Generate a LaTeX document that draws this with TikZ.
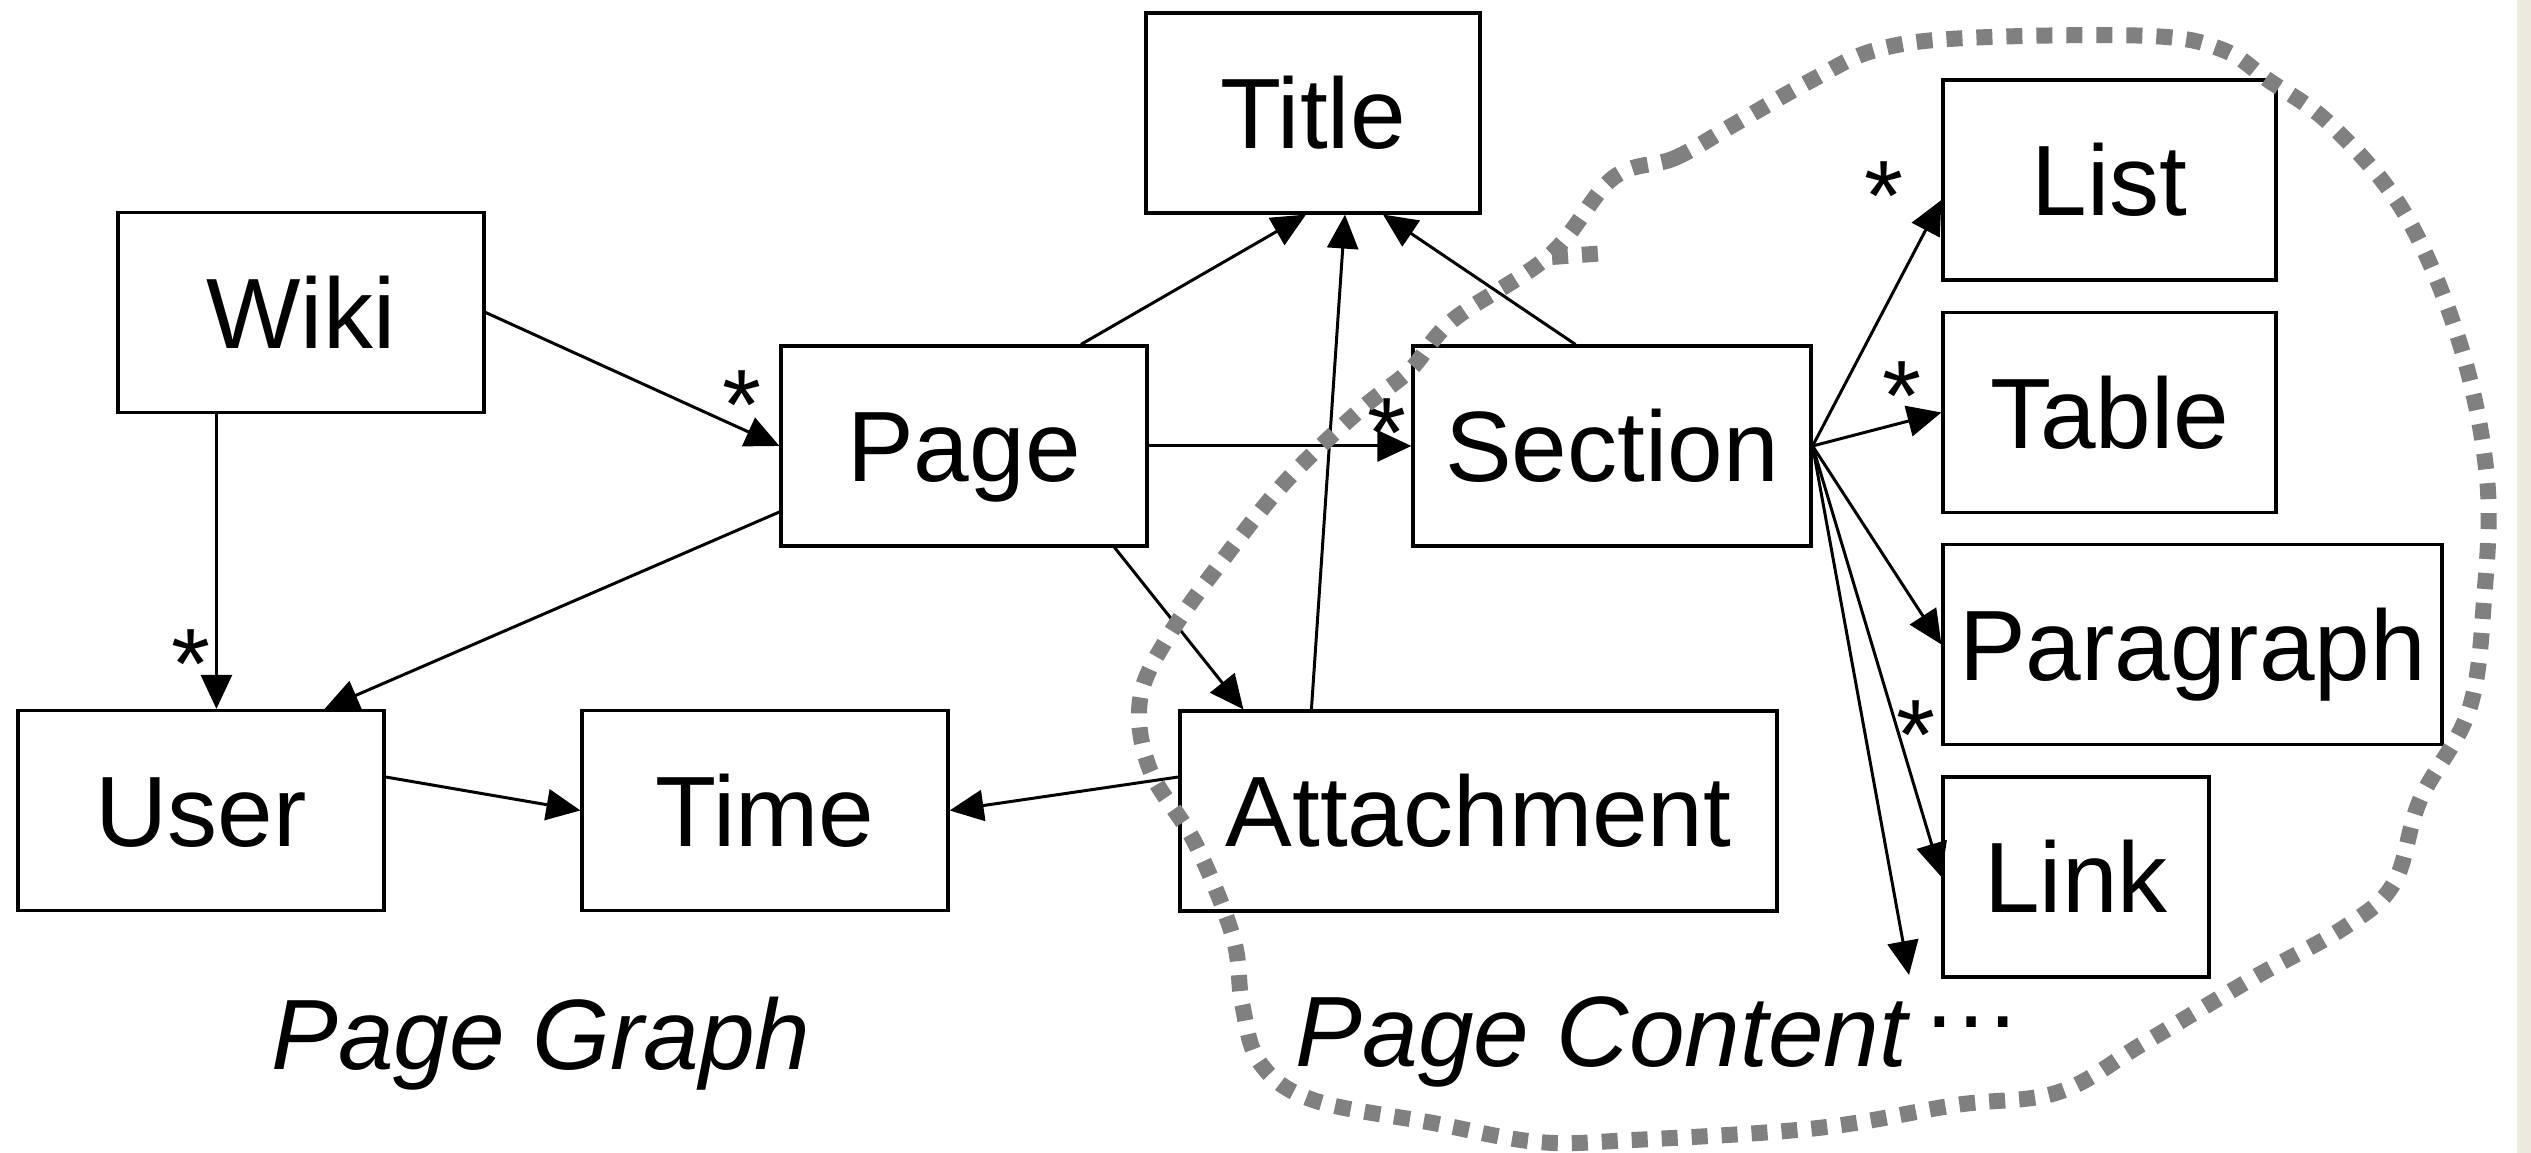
\documentclass[tikz,border=0pt]{standalone}
\usepackage{fontspec}
\setmainfont{Liberation Sans}
\usepackage{tikz}
\usetikzlibrary{arrows.meta}

\definecolor{loopgray}{RGB}{128,128,128}
\definecolor{edgebeige}{RGB}{236,233,221}

\begin{document}
\begin{tikzpicture}[
      box/.style={draw, line width=0.9pt, minimum height=2cm, inner sep=0pt, text height=0.72cm, text depth=0cm, font=\fontsize{28.45}{34}\selectfont},
      rel/.style={-{Triangle[length=3.4mm,width=3.1mm]}, line width=0.85pt},
      mult/.style={anchor=base, inner sep=0pt, font=\fontsize{28.45}{34}\selectfont},
      caption/.style={anchor=base, inner sep=0pt, font=\fontsize{28.45}{34}\selectfont\itshape},
      region/.style={draw=loopgray, line width=1.6mm, dash pattern=on 1.6mm off 1.4mm}
    ]
      \useasboundingbox (0,0) rectangle (25.31,11.53);
      \fill[white] (0,0) rectangle (25.31,11.53);
      \fill[edgebeige] (25.17,0) rectangle (25.31,11.53);

      \node[box, minimum width=3.34cm] (title) at (13.13,10.40) {Title};
      \node[box, minimum width=3.66cm] (wiki) at (3.01,8.405) {Wiki};
      \node[box, minimum width=3.66cm] (page) at (9.64,7.07) {Page};
      \node[box, minimum width=3.98cm] (section) at (16.12,7.07) {Section};
      \node[box, minimum width=3.33cm] (list) at (21.095,9.73) {List};
      \node[box, minimum width=3.33cm] (table) at (21.095,7.405) {Table};
      \node[box, minimum width=4.99cm] (paragraph) at (21.925,5.085) {Paragraph};
      \node[box, minimum width=2.66cm] (link) at (20.76,2.76) {Link};
      \node[box, minimum width=3.66cm] (user) at (2.01,3.425) {User};
      \node[box, minimum width=3.66cm] (time) at (7.65,3.425) {Time};
      \node[box, minimum width=5.97cm] (attachment) at (14.785,3.42) {Attachment};
      \coordinate (more) at (19.09,1.78);

      \draw[rel] (wiki.east) -- (page.west);
      \draw[rel] ([xshift=1cm]wiki.south west) -- ([xshift=1cm]wiki.south west |- user.north);
      \draw[rel] ([yshift=-0.66cm]page.west) -- ([xshift=-0.61cm]user.north east);
      \draw[rel] ([yshift=0.335cm]user.east) -- (time.west);
      \draw[rel] ([yshift=0.34cm]attachment.west) -- (time.east);
      \draw[rel] ([xshift=1.17cm]page.north) -- ([xshift=-0.07cm]title.south);
      \draw[rel] ([xshift=1.33cm]attachment.north west) -- ([xshift=0.32cm]title.south);
      \draw[rel] ([xshift=1.64cm]section.north west) -- ([xshift=0.7cm]title.south);
      \draw[rel] (page.east) -- (section.west);
      \draw[rel] ([xshift=-0.34cm]page.south east) -- ([xshift=0.65cm]attachment.north west);
      \draw[rel] (section.east) -- ([yshift=-0.2cm]list.west);
      \draw[rel] (section.east) -- (table.west);
      \draw[rel] (section.east) -- (paragraph.west);
      \draw[rel] (section.east) -- (link.west);
      \draw[rel] (section.east) -- (more);

      \node[mult] (mpage) at (7.42,7.135) {*};
      \node[mult] (muser) at (1.91,4.545) {*};
      \node[mult] (msection) at (13.87,6.855) {*};
      \node[mult] (mlist) at (18.84,9.225) {*};
      \node[mult] (mtable) at (19.02,7.225) {*};
      \node[mult] (mlink) at (19.16,3.835) {*};

      \node[caption] (graphlabel) at (5.41,0.83) {Page Graph};
      \node[caption, anchor=base west] (contentlabel) at (12.95,0.86) {Page Content\hspace{0.14cm}{\upshape\raisebox{0.39cm}{…}}};

      \draw[region] plot[smooth cycle, tension=0.6] coordinates {(16.13,9.75) (16.75,9.95) (17.33,10.28) (18.12,10.73) (18.76,11.03) (19.67,11.15) (21.50,11.17) (22.23,11.03) (22.68,10.73) (23.32,10.27) (24.05,9.39) (24.60,8.09) (24.87,6.75) (24.84,5.53) (24.69,4.43) (24.20,3.53) (23.94,2.70) (23.45,2.26) (22.55,1.76) (21.44,1.10) (20.59,0.61) (19.56,0.48) (18.18,0.25) (16.33,0.13) (15.38,0.11) (14.33,0.30) (13.13,0.53) (12.60,0.90) (12.42,1.50) (12.33,2.16) (11.95,3.10) (11.50,3.83) (11.40,4.53) (11.68,5.16) (12.25,5.96) (12.87,6.73) (13.60,7.43) (14.10,7.83) (14.53,8.33) (15.50,8.98)};
      \draw[region] (15.52,8.96) -- (16.07,9.00);
    \end{tikzpicture}
\end{document}
